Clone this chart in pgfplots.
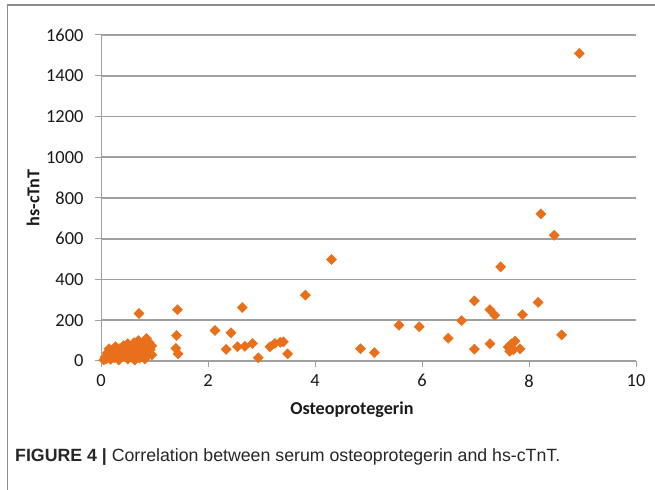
\documentclass[border=0pt]{standalone}
\usepackage{pgfplots}
\pgfplotsset{compat=1.18}
\usepackage{fontspec}
\setmainfont{Carlito}
\newfontfamily\capfont{Liberation Sans}
\definecolor{mk}{HTML}{E8701A}
\definecolor{gridc}{HTML}{A0A0A0}
\definecolor{framec}{HTML}{8C8C8C}
\begin{document}
\begin{tikzpicture}[x=1bp,y=1bp]
\path[use as bounding box] (0,0) rectangle (655,490);
\draw[framec, line width=1.5bp] (7.5,0) -- (7.5,485) -- (655,485);
\begin{axis}[
  at={(101bp,129bp)}, anchor=south west,
  scale only axis, width=535bp, height=326bp,
  xmin=0, xmax=10, ymin=0, ymax=1600,
  xtick={0,2,...,10}, ytick={0,200,...,1600},
  axis x line=bottom, axis y line=left,
  axis line style={-, draw=gridc, line width=1bp},
  tick align=outside, major tick length=6bp,
  tick style={gridc, line width=1bp},
  ymajorgrids, grid style={gridc, line width=1.6bp},
  /pgf/number format/assume math mode=true,
  /pgf/number format/1000 sep={},
  tick label style={font=\fontsize{18.5}{18.5}\selectfont, black!90},
  yticklabel style={xshift=-8bp},
  xticklabel style={yshift=-4bp},
  xlabel={\bfseries Osteoprotegerin},
  ylabel={\bfseries hs-cTnT},
  label style={font=\fontsize{18.2}{18.2}\selectfont, black!90},
  xlabel style={at={(axis description cs:0.469,-0.150)}, anchor=center},
  ylabel style={at={(axis description cs:-0.127,0.5)}, anchor=center},
  clip=false,
]
\addplot[only marks, mark=square*, mark size=3.6bp,
  mark options={rotate=45, fill=mk, draw=mk}] coordinates {
(8.94,1510) (8.22,722) (8.47,617) (4.31,498) (7.47,462) (3.82,323)
(6.98,295) (8.17,288) (2.64,262) (1.43,252) (0.71,233) (7.27,252) (7.36,224)
(7.88,227) (6.74,198) (5.57,175) (5.95,168) (2.13,150) (2.43,139)
(8.61,128) (6.49,112) (1.41,125) (7.27,85) (7.61,68) (7.74,98) (7.67,84)
(7.71,55) (7.83,60) (7.64,48) (6.98,58) (4.85,60) (5.11,41)
(3.16,70) (3.25,86) (3.35,92) (3.41,94) (3.49,35) (2.94,16)
(2.34,57) (2.55,70) (2.69,72) (2.83,86) (1.40,62) (1.44,35)
(0.05,5) (0.08,20) (0.10,10) (0.12,40) (0.15,25) (0.15,60) (0.18,8)
(0.20,35) (0.22,50) (0.25,15) (0.27,70) (0.30,30) (0.30,45) (0.33,5)
(0.35,60) (0.37,20) (0.40,40) (0.42,75) (0.45,25) (0.47,55) (0.50,10)
(0.50,85) (0.52,35) (0.55,65) (0.57,20) (0.60,50) (0.62,90) (0.63,5)
(0.65,30) (0.67,70) (0.70,40) (0.70,100) (0.72,15) (0.75,60) (0.77,85)
(0.78,30) (0.80,50) (0.82,10) (0.85,110) (0.85,70) (0.88,40) (0.90,90)
(0.92,55) (0.95,30) (0.95,75)
};
\end{axis}
\node[anchor=base west, inner sep=0, text=black!85] at (15,28)
  {\capfont\fontsize{17.8}{17.8}\selectfont\textbf{FIGURE 4 |} Correlation between serum osteoprotegerin and hs-cTnT.};
\end{tikzpicture}
\end{document}
